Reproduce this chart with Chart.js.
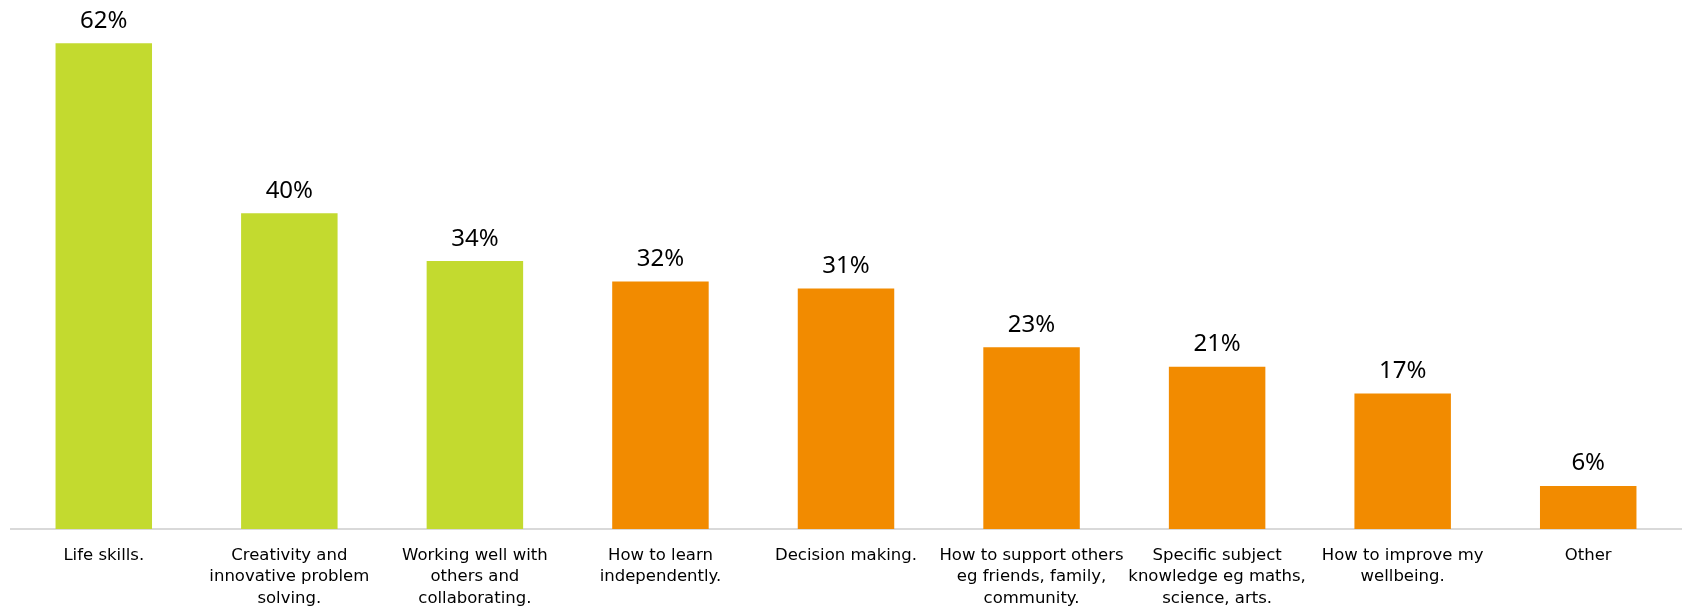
<!DOCTYPE html>
<html>
<head>
<meta charset="utf-8">
<script src="https://cdn.jsdelivr.net/npm/chart.js@4/dist/chart.umd.min.js"></script>
<style>
  html, body { margin: 0; padding: 0; background: #fff; }
  #wrap { width: 1685px; height: 610px; position: relative; }
</style>
</head>
<body>
<div id="wrap"><canvas id="chart"></canvas></div>
<script>
// categories (already split into lines as in the original)
const categories = [
  ['Life skills.'],
  ['Creativity and', 'innovative problem', 'solving.'],
  ['Working well with', 'others and', 'collaborating.'],
  ['How to learn', 'independently.'],
  ['Decision making.'],
  ['How to support others', 'eg friends, family,', 'community.'],
  ['Specific subject', 'knowledge eg maths,', 'science, arts.'],
  ['How to improve my', 'wellbeing.'],
  ['Other']
];

// percentages
const values = [62, 40.3, 34.2, 31.6, 30.7, 23.2, 20.7, 17.3, 5.5];

// first three bars are green, the rest orange
const barColors = ['#C3DA2F', '#C3DA2F', '#C3DA2F', '#F28B00', '#F28B00', '#F28B00', '#F28B00', '#F28B00', '#F28B00'];

// petit plugin pour écrire la valeur au-dessus de chaque barre
const valueLabels = {
  id: 'valueLabels',
  afterDatasetsDraw(chart) {
    const ctx = chart.ctx;
    const meta = chart.getDatasetMeta(0);
    ctx.save();
    ctx.font = '24px "Noto Sans"';
    ctx.fillStyle = '#000';
    ctx.textAlign = 'center';
    ctx.textBaseline = 'alphabetic';
    meta.data.forEach((bar, i) => {
      ctx.fillText(Math.round(values[i]) + '%', bar.x, bar.y - 15.5);
    });
    ctx.restore();
  }
};

new Chart(document.getElementById('chart'), {
  type: 'bar',
  data: {
    labels: categories,
    datasets: [{
      data: values,
      backgroundColor: barColors,
      borderWidth: 0,
      categoryPercentage: 1,
      barPercentage: 0.52
    }]
  },
  options: {
    responsive: true,
    maintainAspectRatio: false,
    devicePixelRatio: 1,
    animation: false,
    layout: { padding: { left: 11, right: 4, top: 19.7, bottom: 0 } },
    plugins: {
      legend: { display: false },
      tooltip: { enabled: false }
    },
    scales: {
      x: {
        grid: { display: false, drawTicks: false },
        border: { display: true, color: '#D9D9D9', width: 2 },
        ticks: {
          color: '#000',
          padding: 16,
          maxRotation: 0,
          autoSkip: false,
          font: { family: '"DejaVu Sans"', size: 16.5, lineHeight: 1.3 }
        },
        // hauteur fixe de la zone des libellés
        afterFit(scale) {
          scale.height = 81;
        }
      },
      y: {
        display: false,
        min: 0,
        max: 65
      }
    }
  },
  plugins: [valueLabels]
});
</script>
</body>
</html>
